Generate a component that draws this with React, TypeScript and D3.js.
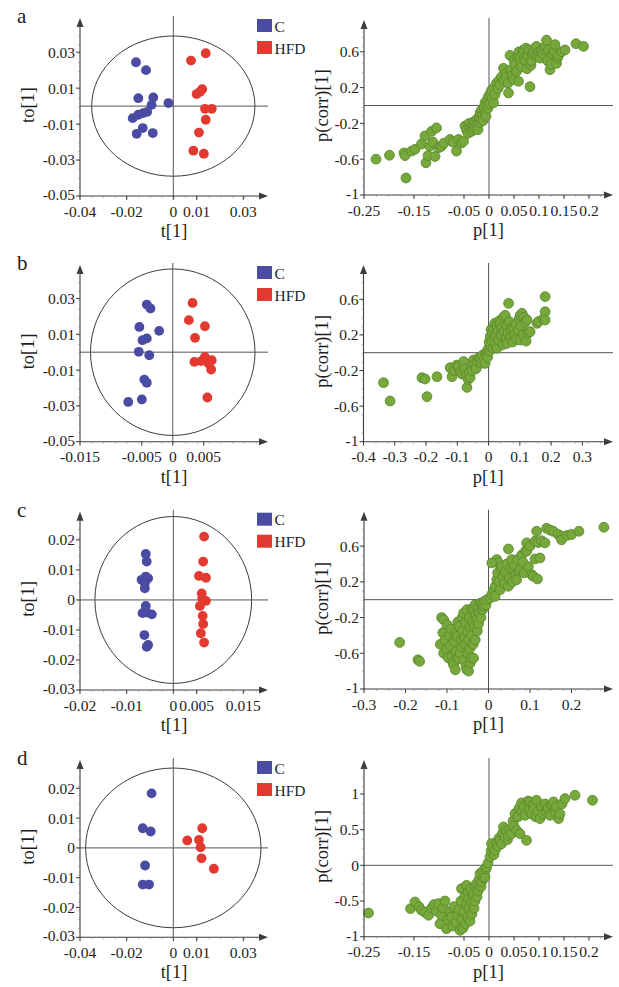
import * as d3 from 'd3';

type Pt = [number, number];

// OPLS-DA score plots: [t[1], to[1]]
const scoreA_C: Pt[] = [
  [-0.016, 0.0244], [-0.0117, 0.02], [-0.015, 0.0044], [-0.0086, 0.0048], [-0.0093, 0.0007],
  [-0.0021, 0.0017], [-0.0129, -0.0039], [-0.015, -0.0048], [-0.0174, -0.0067], [-0.0131, -0.0122],
  [-0.0157, -0.0154], [-0.0088, -0.015], [-0.0112, -0.0032],
];
const scoreA_H: Pt[] = [
  [0.0139, 0.0294], [0.0076, 0.0253], [0.0124, 0.0094], [0.01, 0.0067], [0.0115, 0.008],
  [0.0136, -0.0015], [0.0165, -0.0015], [0.0139, -0.0076], [0.011, -0.0147], [0.0086, -0.0248],
  [0.0131, -0.0265],
];
const scoreB_C: Pt[] = [
  [-0.0042, 0.0266], [-0.0036, 0.0244], [-0.0054, 0.0141], [-0.0022, 0.0119], [-0.0042, 0.0077],
  [-0.0049, 0.0067], [-0.0055, 0.0002], [-0.0038, -0.0017], [-0.0046, -0.0153], [-0.0042, -0.0171],
  [-0.005, -0.0264], [-0.0072, -0.0278],
];
const scoreB_H: Pt[] = [
  [0.0032, 0.0275], [0.0026, 0.0179], [0.0052, 0.0145], [0.0036, 0.008], [0.0035, -0.0054],
  [0.0052, -0.0026], [0.0063, -0.0045], [0.0058, -0.0063], [0.0062, -0.0097], [0.0056, -0.0253],
  [0.0046, -0.005],
];
const scoreC_C: Pt[] = [
  [-0.0059, 0.0153], [-0.0057, 0.0128], [-0.0059, 0.0078], [-0.0068, 0.0067], [-0.0054, 0.0072],
  [-0.0061, 0.0056], [-0.0061, 0.0039], [-0.0059, -0.002], [-0.0066, -0.0044], [-0.0057, -0.0042],
  [-0.0046, -0.0048], [-0.0062, -0.0117], [-0.0054, -0.015], [-0.0057, -0.0156],
];
const scoreC_H: Pt[] = [
  [0.0066, 0.0211], [0.0064, 0.0128], [0.0055, 0.008], [0.007, 0.0074], [0.0061, 0.0022],
  [0.007, -0.0003], [0.0057, -0.002], [0.0063, -0.0053], [0.0064, -0.008], [0.0059, -0.0111],
  [0.0066, -0.0142], [0.0062, 0.0005],
];
const scoreD_C: Pt[] = [
  [-0.0093, 0.0183], [-0.0131, 0.0066], [-0.0097, 0.0055], [-0.0121, -0.0059], [-0.0131, -0.0123],
  [-0.0104, -0.0123],
];
const scoreD_H: Pt[] = [
  [0.0124, 0.0066], [0.006, 0.0025], [0.011, 0.0027], [0.0117, 0.0002], [0.0121, -0.0035],
  [0.0174, -0.007],
];

// S-plots: [p[1], p(corr)[1]]
const splotA: Pt[] = [
  [-0.226, -0.6], [-0.199, -0.556], [-0.17, -0.53], [-0.168, -0.56], [-0.166, -0.81], [-0.155, -0.51],
  [-0.148, -0.49], [-0.135, -0.43], [-0.128, -0.34], [-0.126, -0.64], [-0.122, -0.56], [-0.118, -0.455],
  [-0.115, -0.29], [-0.112, -0.41], [-0.105, -0.25], [-0.108, -0.57], [-0.1, -0.47], [-0.095, -0.455],
  [-0.09, -0.42], [-0.078, -0.38], [-0.072, -0.41], [-0.065, -0.51], [-0.061, -0.38], [-0.055, -0.42],
  [-0.051, -0.4], [-0.048, -0.23], [-0.045, -0.27], [-0.042, -0.31], [-0.04, -0.2], [-0.038, -0.25],
  [-0.035, -0.29], [-0.033, -0.22], [-0.031, -0.27], [-0.03, -0.18], [-0.028, -0.24], [-0.025, -0.16],
  [-0.024, -0.21], [-0.022, -0.27], [-0.02, -0.13], [-0.018, -0.085], [-0.018, -0.19], [-0.016, -0.15],
  [-0.015, -0.05], [-0.013, -0.11], [-0.012, -0.17], [-0.01, -0.02], [-0.008, 0.03], [-0.008, -0.08],
  [-0.006, -0.12], [-0.004, 0.06], [-0.002, -0.03], [-0.001, 0.1], [0.001, 0.02], [0.003, 0.14],
  [0.005, 0.17], [0.006, 0.08], [0.009, 0.03], [0.01, 0.2], [0.012, 0.12], [0.015, 0.25], [0.018, 0.19],
  [0.02, 0.28], [0.022, 0.23], [0.025, 0.32], [0.029, 0.415], [0.03, 0.28], [0.033, 0.36], [0.035, 0.32],
  [0.038, 0.25], [0.039, 0.14], [0.042, 0.56], [0.044, 0.4], [0.046, 0.33], [0.049, 0.29], [0.05, 0.5],
  [0.052, 0.45], [0.055, 0.38], [0.057, 0.55], [0.059, 0.27], [0.06, 0.6], [0.062, 0.53], [0.064, 0.47],
  [0.065, 0.43], [0.067, 0.58], [0.069, 0.62], [0.072, 0.5], [0.074, 0.64], [0.076, 0.41], [0.078, 0.56],
  [0.08, 0.62], [0.082, 0.21], [0.084, 0.45], [0.085, 0.5], [0.087, 0.58], [0.089, 0.6], [0.092, 0.64],
  [0.095, 0.66], [0.097, 0.55], [0.1, 0.6], [0.102, 0.53], [0.104, 0.62], [0.107, 0.58], [0.11, 0.63],
  [0.113, 0.66], [0.115, 0.73], [0.117, 0.5], [0.119, 0.62], [0.122, 0.4], [0.124, 0.46], [0.127, 0.58],
  [0.13, 0.61], [0.132, 0.68], [0.135, 0.47], [0.137, 0.53], [0.139, 0.56], [0.145, 0.6], [0.152, 0.62],
  [0.174, 0.69], [0.189, 0.66],
];
const splotB: Pt[] = [
  [-0.336, -0.337], [-0.315, -0.543], [-0.213, -0.281], [-0.203, -0.296], [-0.197, -0.494], [-0.165, -0.27],
  [-0.123, -0.169], [-0.117, -0.27], [-0.11, -0.2], [-0.102, -0.14], [-0.096, -0.157], [-0.09, -0.21],
  [-0.085, -0.24], [-0.08, -0.1], [-0.076, -0.18], [-0.072, -0.25], [-0.069, -0.39], [-0.065, -0.3],
  [-0.062, -0.22], [-0.059, -0.28], [-0.055, -0.15], [-0.052, -0.2], [-0.048, -0.082], [-0.045, -0.13],
  [-0.04, -0.18], [-0.036, -0.1], [-0.032, -0.06], [-0.027, -0.064], [-0.024, -0.12], [-0.02, -0.03],
  [-0.016, -0.08], [-0.011, -0.12], [-0.008, 0.0], [-0.005, 0.01], [-0.003, -0.05], [0.0, 0.05],
  [0.002, 0.12], [0.004, 0.02], [0.005, 0.18], [0.007, 0.08], [0.008, 0.26], [0.01, 0.14], [0.012, 0.22],
  [0.014, 0.05], [0.016, 0.27], [0.018, 0.16], [0.02, 0.33], [0.022, 0.1], [0.024, 0.2], [0.026, 0.3],
  [0.027, 0.049], [0.03, 0.25], [0.032, 0.14], [0.035, 0.36], [0.037, 0.33], [0.04, 0.2], [0.042, 0.28],
  [0.045, 0.09], [0.048, 0.4], [0.05, 0.24], [0.053, 0.42], [0.055, 0.15], [0.058, 0.3], [0.059, 0.105],
  [0.062, 0.22], [0.064, 0.554], [0.066, 0.35], [0.07, 0.18], [0.073, 0.27], [0.077, 0.12], [0.08, 0.273],
  [0.083, 0.2], [0.087, 0.32], [0.09, 0.15], [0.094, 0.25], [0.098, 0.38], [0.101, 0.142], [0.101, 0.42],
  [0.104, 0.3], [0.107, 0.442], [0.11, 0.2], [0.113, 0.4], [0.117, 0.34], [0.12, 0.13], [0.123, 0.367],
  [0.127, 0.22], [0.133, 0.236], [0.155, 0.33], [0.16, 0.35], [0.175, 0.38], [0.181, 0.63], [0.181, 0.46],
  [0.181, 0.367],
];
const splotC: Pt[] = [
  [-0.214, -0.479], [-0.17, -0.673], [-0.166, -0.69], [-0.116, -0.5], [-0.113, -0.2], [-0.11, -0.37],
  [-0.108, -0.224], [-0.108, -0.6], [-0.105, -0.45], [-0.1, -0.28], [-0.1, -0.55], [-0.097, -0.65],
  [-0.094, -0.4], [-0.092, -0.52], [-0.09, -0.33], [-0.088, -0.635], [-0.086, -0.7], [-0.084, -0.73],
  [-0.082, -0.47], [-0.08, -0.785], [-0.08, -0.38], [-0.078, -0.58], [-0.076, -0.41], [-0.074, -0.25],
  [-0.072, -0.66], [-0.07, -0.3], [-0.068, -0.6], [-0.066, -0.45], [-0.064, -0.53], [-0.063, -0.2],
  [-0.062, -0.35], [-0.06, -0.15], [-0.06, -0.68], [-0.058, -0.42], [-0.056, -0.5], [-0.055, -0.26],
  [-0.054, -0.75], [-0.052, -0.112], [-0.052, -0.785], [-0.05, -0.36], [-0.05, -0.6], [-0.048, -0.8],
  [-0.048, -0.45], [-0.046, -0.2], [-0.045, -0.55], [-0.044, -0.3], [-0.044, -0.71], [-0.042, -0.65],
  [-0.04, -0.1], [-0.04, -0.4], [-0.038, -0.25], [-0.037, -0.5], [-0.036, -0.654], [-0.036, -0.112],
  [-0.034, -0.3], [-0.032, -0.056], [-0.032, -0.45], [-0.03, -0.18], [-0.028, -0.224], [-0.027, -0.35],
  [-0.025, -0.08], [-0.024, -0.27], [-0.022, -0.15], [-0.02, -0.04], [-0.018, -0.2], [-0.016, -0.037],
  [-0.014, -0.11], [-0.012, -0.07], [-0.01, -0.02], [-0.006, -0.06], [-0.004, 0.0], [0.004, 0.019],
  [0.008, 0.06], [0.012, 0.1], [0.016, 0.037], [0.016, 0.15], [0.02, 0.224], [0.02, 0.449], [0.022, 0.3],
  [0.024, 0.41], [0.008, 0.411], [0.026, 0.2], [0.028, 0.112], [0.03, 0.35], [0.032, 0.374], [0.035, 0.26],
  [0.038, 0.18], [0.04, 0.31], [0.044, 0.4], [0.048, 0.568], [0.048, 0.15], [0.05, 0.24], [0.052, 0.35],
  [0.056, 0.449], [0.058, 0.2], [0.06, 0.336], [0.062, 0.38], [0.065, 0.28], [0.068, 0.224], [0.07, 0.45],
  [0.072, 0.32], [0.076, 0.336], [0.08, 0.5], [0.083, 0.42], [0.086, 0.3], [0.09, 0.55], [0.092, 0.636],
  [0.092, 0.542], [0.096, 0.37], [0.1, 0.6], [0.104, 0.28], [0.108, 0.262], [0.112, 0.654], [0.112, 0.456],
  [0.116, 0.766], [0.118, 0.232], [0.12, 0.64], [0.124, 0.467], [0.128, 0.66], [0.136, 0.636], [0.14, 0.8],
  [0.148, 0.78], [0.156, 0.766], [0.168, 0.73], [0.176, 0.71], [0.176, 0.67], [0.19, 0.72], [0.2, 0.73],
  [0.218, 0.766], [0.278, 0.811],
];
const splotD: Pt[] = [
  [-0.241, -0.668], [-0.157, -0.607], [-0.148, -0.514], [-0.14, -0.58], [-0.135, -0.63], [-0.128, -0.66],
  [-0.121, -0.7], [-0.115, -0.6], [-0.11, -0.55], [-0.105, -0.64], [-0.101, -0.537], [-0.098, -0.818],
  [-0.095, -0.7], [-0.092, -0.6], [-0.088, -0.5], [-0.085, -0.888], [-0.082, -0.76], [-0.078, -0.65],
  [-0.075, -0.724], [-0.072, -0.85], [-0.07, -0.58], [-0.066, -0.8], [-0.063, -0.7], [-0.06, -0.62],
  [-0.058, -0.911], [-0.056, -0.5], [-0.055, -0.327], [-0.054, -0.76], [-0.052, -0.88], [-0.05, -0.65],
  [-0.048, -0.42], [-0.047, -0.82], [-0.045, -0.28], [-0.045, -0.55], [-0.043, -0.72], [-0.042, -0.38],
  [-0.041, -0.467], [-0.04, -0.6], [-0.038, -0.78], [-0.036, -0.33], [-0.035, -0.52], [-0.034, -0.68],
  [-0.032, -0.42], [-0.031, -0.397], [-0.03, -0.6], [-0.028, -0.3], [-0.028, -0.5], [-0.025, -0.257],
  [-0.024, -0.44], [-0.022, -0.36], [-0.02, -0.2], [-0.018, -0.117], [-0.016, -0.3], [-0.015, -0.234],
  [-0.012, -0.08], [-0.01, -0.18], [-0.008, -0.164], [-0.006, -0.05], [-0.005, -0.023], [-0.002, 0.03],
  [0.002, 0.117], [0.004, 0.2], [0.005, 0.304], [0.008, 0.25], [0.01, 0.15], [0.012, 0.21], [0.015, 0.32],
  [0.018, 0.27], [0.02, 0.38], [0.022, 0.35], [0.025, 0.3], [0.027, 0.45], [0.029, 0.537], [0.032, 0.4],
  [0.035, 0.48], [0.037, 0.36], [0.039, 0.42], [0.042, 0.5], [0.045, 0.44], [0.048, 0.62], [0.05, 0.55],
  [0.052, 0.724], [0.055, 0.49], [0.058, 0.68], [0.06, 0.8], [0.062, 0.444], [0.065, 0.874], [0.066, 0.75],
  [0.07, 0.82], [0.072, 0.7], [0.075, 0.35], [0.078, 0.9], [0.08, 0.78], [0.082, 0.888], [0.085, 0.72],
  [0.088, 0.85], [0.09, 0.8], [0.093, 0.68], [0.095, 0.911], [0.098, 0.75], [0.102, 0.654], [0.105, 0.82],
  [0.108, 0.72], [0.112, 0.86], [0.115, 0.748], [0.118, 0.8], [0.122, 0.7], [0.125, 0.85], [0.129, 0.888],
  [0.132, 0.75], [0.135, 0.82], [0.139, 0.654], [0.142, 0.72], [0.146, 0.86], [0.152, 0.935], [0.172, 0.981],
  [0.207, 0.911],
];

// axis ticks
const scoreXTicks = [
  [-0.04, -0.02, 0, 0.01, 0.03],
  [-0.015, -0.005, 0, 0.005],
  [-0.02, -0.01, 0, 0.005, 0.015],
  [-0.04, -0.02, 0, 0.01, 0.03],
];
const scoreYTicks = [
  [0.03, 0.01, -0.01, -0.03, -0.05],
  [0.03, 0.01, -0.01, -0.03, -0.05],
  [0.02, 0.01, 0, -0.01, -0.02, -0.03],
  [0.02, 0.01, 0, -0.01, -0.02, -0.03],
];
const splotXTicks = [
  [-0.25, -0.15, -0.05, 0, 0.05, 0.1, 0.15, 0.2],
  [-0.4, -0.3, -0.2, -0.1, 0, 0.1, 0.2, 0.3],
  [-0.3, -0.2, -0.1, 0, 0.1, 0.2],
  [-0.25, -0.15, -0.05, 0, 0.05, 0.1, 0.15, 0.2],
];
const splotYTicks = [
  [0.6, 0.2, -0.2, -0.6, -1],
  [0.6, 0.2, -0.2, -0.6, -1],
  [0.6, 0.2, -0.2, -0.6, -1],
  [1, 0.5, 0, -0.5, -1],
];
// Hotelling T2 ellipse half-axes [t, to]
const ellipseAxes: Pt[] = [[0.035, 0.039], [0.0133, 0.0465], [0.0168, 0.0278], [0.0376, 0.0268]];

const letters = ['a', 'b', 'c', 'd'];
const groupNames = ['C', 'HFD'];
const scoreSets = [[scoreA_C, scoreA_H], [scoreB_C, scoreB_H], [scoreC_C, scoreC_H], [scoreD_C, scoreD_H]];
const splotSets = [splotA, splotB, splotC, splotD];

// layout: domains end at the arrow tips
const leftBox = [
  { x: [80, 268], y: [196, 18], xd: [-0.04, 0.0406], yd: [-0.05, 0.049] },
  { x: [80, 268], y: [441.7, 265], xd: [-0.015, 0.0154], yd: [-0.05, 0.0487] },
  { x: [80, 268], y: [690, 511.7], xd: [-0.02, 0.0203], yd: [-0.03, 0.0294] },
  { x: [80, 268], y: [937.3, 760], xd: [-0.04, 0.0406], yd: [-0.03, 0.0295] },
];
const rightBox = [
  { x: [364, 613], y: [195, 20], xd: [-0.25, 0.248], yd: [-1, 0.955] },
  { x: [363.5, 613], y: [441.7, 265], xd: [-0.4, 0.398], yd: [-1, 0.985] },
  { x: [364, 613], y: [689, 511.7], xd: [-0.3, 0.3], yd: [-1, 0.985] },
  { x: [364, 613], y: [936.7, 760], xd: [-0.25, 0.248], yd: [-1, 1.475] },
];

const AXIS = '#3c3c3c';
const ZERO = '#555';
const BLUE = '#4a4ba3';
const RED = '#e23a30';
const GREEN = '#77a83c';
const GREEN_EDGE = '#5b8a2c';
const FONT = 'Liberation Serif';
const TXT = { fontFamily: FONT };

const fmt = (v: number) => (v === 0 ? '0' : String(v));

function Axes({ box, xTicks, yTicks, xTitle, yTitle, yTitleX, minorX, minorY }: any) {
  const x = d3.scaleLinear().domain(box.xd).range(box.x);
  const y = d3.scaleLinear().domain(box.yd).range(box.y);
  const [x0, x1] = box.x;
  const [y0, y1] = box.y;
  const xMinor = d3.range(box.xd[0], box.xd[1], minorX);
  const yMinor = d3.range(box.yd[0], box.yd[1], minorY);
  return (
    <g fill="#1e1e1e">
      <line x1={x0} x2={x1 - 6} y1={y0} y2={y0} stroke={AXIS} strokeWidth={1.1} />
      <polygon points={`${x1 - 9},${y0 - 3.5} ${x1},${y0} ${x1 - 9},${y0 + 3.5}`} fill={AXIS} />
      <line x1={x0} x2={x0} y1={y0} y2={y1 + 6} stroke={AXIS} strokeWidth={1.1} />
      <polygon points={`${x0 - 3.5},${y1 + 9} ${x0},${y1} ${x0 + 3.5},${y1 + 9}`} fill={AXIS} />
      {xMinor.map((v: number, i: number) => (
        <line key={'xm' + i} x1={x(v)} x2={x(v)} y1={y0} y2={y0 + 2} stroke="#888" strokeWidth={0.6} />
      ))}
      {yMinor.map((v: number, i: number) => (
        <line key={'ym' + i} x1={x0 - 2} x2={x0} y1={y(v)} y2={y(v)} stroke="#888" strokeWidth={0.6} />
      ))}
      {xTicks.map((v: number) => (
        <g key={'x' + v}>
          <line x1={x(v)} x2={x(v)} y1={y0} y2={y0 + 4} stroke={AXIS} />
          <text x={x(v)} y={y0 + 20.5} textAnchor="middle" fontSize={15.5} style={TXT}>{fmt(v)}</text>
        </g>
      ))}
      {yTicks.map((v: number) => (
        <g key={'y' + v}>
          <line x1={x0 - 4} x2={x0} y1={y(v)} y2={y(v)} stroke={AXIS} />
          <text x={x0 - 5} y={y(v) - (v === yTicks[yTicks.length - 1] ? 1.5 : 0)} dy="0.35em" textAnchor="end"
            fontSize={15.5} style={TXT}>{fmt(v)}</text>
        </g>
      ))}
      <text x={(x0 + x1) / 2} y={y0 + 41} textAnchor="middle" fontSize={18.5} style={TXT}>{xTitle}</text>
      <text transform={`translate(${yTitleX},${(y0 + y1) / 2 - 2}) rotate(-90)`} textAnchor="middle"
        dy="0.35em" fontSize={18.5} style={TXT}>{yTitle}</text>
    </g>
  );
}

function ScorePanel({ i }: { i: number }) {
  const box = leftBox[i];
  const x = d3.scaleLinear().domain(box.xd).range(box.x);
  const y = d3.scaleLinear().domain(box.yd).range(box.y);
  const [rx, ry] = ellipseAxes[i];
  const colors = [BLUE, RED];
  const top = box.y[1];
  return (
    <g>
      <ellipse cx={x(0)} cy={y(0)} rx={x(rx) - x(0)} ry={y(0) - y(ry)} fill="none" stroke={AXIS} strokeWidth={1} />
      <line x1={box.x[0]} x2={box.x[1]} y1={y(0)} y2={y(0)} stroke={ZERO} strokeWidth={1} />
      <line x1={x(0)} x2={x(0)} y1={top - 2} y2={box.y[0]} stroke={ZERO} strokeWidth={1} />
      {scoreSets[i].map((pts, g) =>
        pts.map((d, k) => <circle key={g + '-' + k} cx={x(d[0])} cy={y(d[1])} r={4.9} fill={colors[g]} />)
      )}
      <Axes box={box} xTicks={scoreXTicks[i]} yTicks={scoreYTicks[i]} xTitle="t[1]" yTitle="to[1]"
        yTitleX={28} minorX={(box.xd[1] - box.xd[0]) / 16} minorY={(box.yd[1] - box.yd[0]) / 20} />
      <text x={17} y={top + 5} fontSize={21} style={TXT} fill="#1e1e1e">{letters[i]}</text>
      {groupNames.map((name, g) => (
        <g key={name}>
          <rect x={257} y={top + 1 + g * 22} width={15} height={13} fill={colors[g]} />
          <text x={274.5} y={top + 13.5 + g * 22} fontSize={15.5} fill="#1e1e1e" style={TXT}>{name}</text>
        </g>
      ))}
    </g>
  );
}

function SPlotPanel({ i }: { i: number }) {
  const box = rightBox[i];
  const x = d3.scaleLinear().domain(box.xd).range(box.x);
  const y = d3.scaleLinear().domain(box.yd).range(box.y);
  const top = box.y[1];
  return (
    <g>
      <line x1={box.x[0]} x2={box.x[1]} y1={y(0)} y2={y(0)} stroke={ZERO} strokeWidth={1} />
      <line x1={x(0)} x2={x(0)} y1={top - 2} y2={box.y[0]} stroke={ZERO} strokeWidth={1} />
      {splotSets[i].map((d, k) => (
        <circle key={k} cx={x(d[0])} cy={y(d[1])} r={4.9} fill={GREEN} stroke={GREEN_EDGE} strokeWidth={0.9} />
      ))}
      <Axes box={box} xTicks={splotXTicks[i]} yTicks={splotYTicks[i]} xTitle="p[1]" yTitle="p(corr)[1]"
        yTitleX={322} minorX={(box.xd[1] - box.xd[0]) / 20} minorY={(box.yd[1] - box.yd[0]) / 20} />
    </g>
  );
}

export default function App() {
  return (
    <svg width={619} height={987} style={{ position: 'absolute', left: 0, top: 0, background: '#fff', fontFamily: FONT }}>
      <rect width={619} height={987} fill="#fff" />
      {letters.map((_, i) => (
        <g key={i}>
          <ScorePanel i={i} />
          <SPlotPanel i={i} />
        </g>
      ))}
    </svg>
  );
}
